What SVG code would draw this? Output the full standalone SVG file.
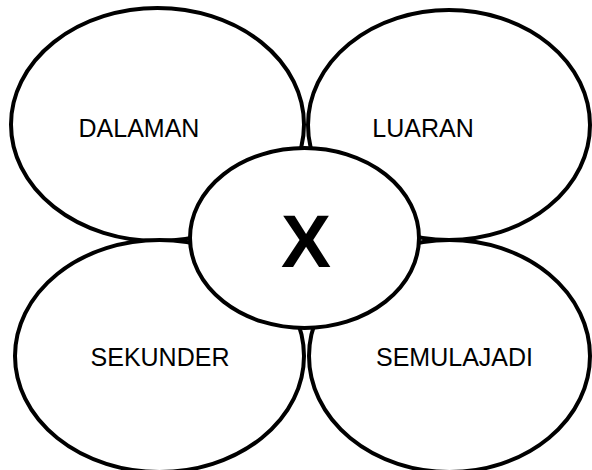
<svg xmlns="http://www.w3.org/2000/svg" width="592" height="470" viewBox="0 0 592 470">
<style>
.pet{fill:#fff;stroke:#000;stroke-width:4}
.lbl{font-family:"Liberation Sans",Arial,sans-serif;font-size:25px;fill:#000;text-anchor:middle}
.ctr{font-family:"Liberation Sans",Arial,sans-serif;font-size:75px;font-weight:bold;fill:#000;text-anchor:middle}
</style>
<rect width="592" height="470" fill="#fff"/>
<g id="connectors"/>
<g id="dalaman">
<ellipse class="pet" cx="157.5" cy="124.5" rx="146.5" ry="116.5"/>
<text class="lbl" x="139" y="137">DALAMAN</text>
</g>
<g id="luaran">
<ellipse class="pet" cx="449" cy="125" rx="141" ry="115"/>
<text class="lbl" x="423" y="137">LUARAN</text>
</g>
<g id="sekunder">
<ellipse class="pet" cx="159.5" cy="356" rx="144.5" ry="116"/>
<text class="lbl" x="160" y="366">SEKUNDER</text>
</g>
<g id="semulajadi">
<ellipse class="pet" cx="449.5" cy="356" rx="140.5" ry="116"/>
<text class="lbl" x="454.5" y="366">SEMULAJADI</text>
</g>
<g id="x">
<ellipse class="pet" cx="304.5" cy="238" rx="114.5" ry="90"/>
<text class="ctr" x="306" y="267">X</text>
</g>
</svg>
